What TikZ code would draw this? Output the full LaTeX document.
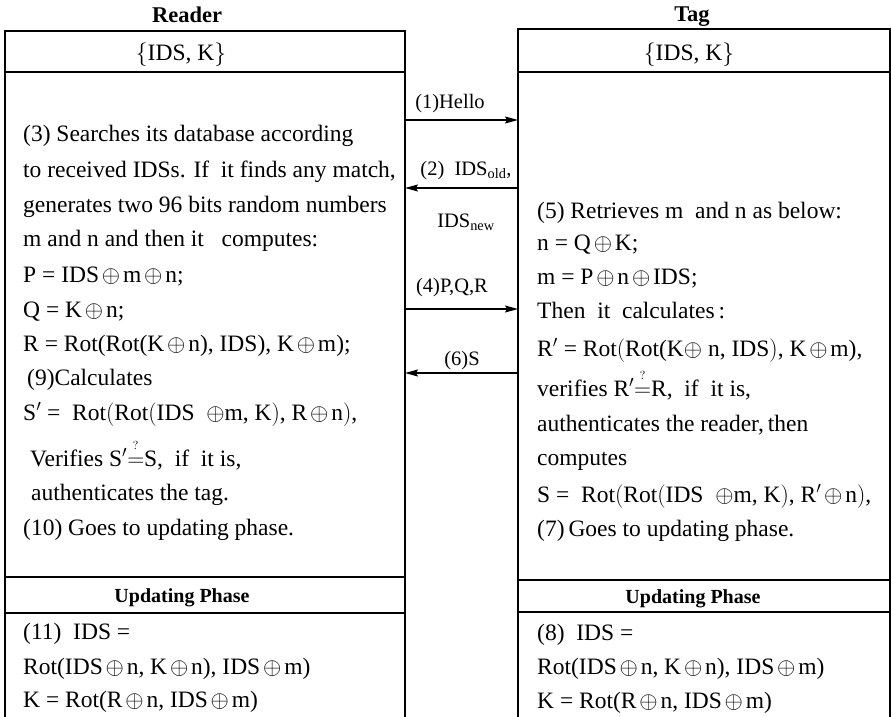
\RequirePackage{fix-cm}
\documentclass[tikz,border=0pt]{standalone}
\usepackage{fontspec}
\setmainfont{Liberation Serif}
\usetikzlibrary{arrows.meta}

\newcommand{\bodyfont}{\fontsize{23.5}{28}\selectfont}
\newcommand{\msgfont}{\fontsize{20.5}{24}\selectfont}
\newcommand{\xo}{\hspace{0.12em}$\oplus$\hspace{0.12em}}
\newcommand{\qeq}{$\mathrel{\mathop{=}\limits^{\raisebox{6pt}{$\scriptscriptstyle ?$}}}$}

\begin{document}
\begin{tikzpicture}[
  x=1pt, y=-1pt,
  box/.style={line width=1.2pt},
  txt/.style={anchor=base west, inner sep=0pt, font=\bodyfont},
  head/.style={anchor=base, inner sep=0pt, font=\fontsize{22.5}{26}\selectfont\bfseries},
  phase/.style={anchor=base, inner sep=0pt, font=\fontsize{20}{24}\selectfont\bfseries},
  msg/.style={anchor=base, inner sep=0pt, font=\msgfont},
  arr/.style={line width=1.1pt, -{Stealth[length=13pt, width=7pt, inset=2pt]}}
]
\useasboundingbox (0,0) rectangle (891,717);

% Reader and tag boxes
\draw[box] (5,717) -- (5,31) -- (405,31) -- (405,717);
\draw[box] (5,72) -- (405,72);
\draw[box] (5,577) -- (405,577);
\draw[box] (5,613) -- (405,613);
\draw[box] (518,717) -- (518,29) -- (890,29) -- (890,717);
\draw[box] (518,72) -- (890,72);
\draw[box] (518,580) -- (890,580);
\draw[box] (518,612) -- (890,612);

% Headings
\node[head] (reader) at (187,23) {Reader};
\node[head] (tag) at (692,22) {Tag};
\node[msg, font=\bodyfont] (rkeys) at (181,61) {$\bigl\{$IDS, K$\bigr\}$};
\node[msg, font=\bodyfont] (tkeys) at (689,61) {$\bigl\{$IDS, K$\bigr\}$};

% Reader side
\node[txt] (r1) at (23,141) {(3) Searches its database according};
\node[txt] (r2) at (23,177) {to received IDSs. If\ \ it finds any match,};
\node[txt] (r3) at (23,212) {generates two 96 bits random numbers};
\node[txt] (r4) at (23,246) {m and n and then it\ \ \ computes:};
\node[txt] (r5) at (23,282) {P = IDS\xo m\xo n;};
\node[txt] (r6) at (23,317) {Q = K\xo n;};
\node[txt] (r7) at (23,351) {R = Rot(Rot(K\xo n), IDS), K\xo m);};
\node[txt] (r8) at (27,385) {(9)Calculates};
\node[txt] (r9) at (23,420) {S$'$ =\ \ Rot$\bigl($Rot$\bigl($IDS\ \ $\oplus$m, K$\bigr)$, R\xo n$\bigr)$,};
\node[txt] (r10) at (30,466) {Verifies S$'$\qeq S,\ \ if\ \ it is,};
\node[txt] (r11) at (31,500) {authenticates the tag.};
\node[txt] (r12) at (23,535) {(10) Goes to updating phase.};
\node[phase] (rup) at (182,602) {Updating Phase};
\node[txt] (r13) at (23,639) {(11)\ \ IDS =};
\node[txt] (r14) at (23,674) {Rot(IDS\xo n, K\xo n), IDS\xo m)};
\node[txt] (r15) at (23,707) {K = Rot(R\xo n, IDS\xo m)};

% Tag side
\node[txt] (t1) at (537,218) {(5) Retrieves m\ \ and n as below:};
\node[txt] (t2) at (537,250) {n = Q\xo K;};
\node[txt] (t3) at (537,284) {m = P\xo n\xo IDS;};
\node[txt] (t4) at (537,318) {Then\ \ it\ \ calculates\,:};
\node[txt] (t5) at (537,356) {R$'$ = Rot$\bigl($Rot(K$\oplus$ n, IDS$\bigr)$, K\xo m),};
\node[txt] (t6) at (537,396) {verifies R$'$\qeq R,\ \ if\ \ it is,};
\node[txt] (t7) at (537,431) {authenticates the reader,\,then};
\node[txt] (t8) at (537,465) {computes};
\node[txt] (t9) at (537,502) {S =\ \ Rot$\bigl($Rot$\bigl($IDS\ \ $\oplus$m, K$\bigr)$, R$'$\xo n$\bigr)$,};
\node[txt] (t10) at (537,536) {(7)\,Goes to updating phase.};
\node[phase] (tup) at (693,603) {Updating Phase};
\node[txt] (t11) at (537,640) {(8)\ \ IDS =};
\node[txt] (t12) at (537,674) {Rot(IDS\xo n, K\xo n), IDS\xo m)};
\node[txt] (t13) at (537,708) {K = Rot(R\xo n, IDS\xo m)};

% Message end points on the box edges
\coordinate (rh) at (405,120);
\coordinate (th) at (518,120);
\coordinate (rid) at (405,188);
\coordinate (tid) at (518,188);
\coordinate (rpqr) at (405,309);
\coordinate (tpqr) at (518,309);
\coordinate (rs) at (405,373);
\coordinate (ts) at (518,373);

% Messages
\draw[arr] (rh) -- (th);
\node[msg] (hello) at (450,108) {(1)Hello};
\draw[arr] (tid) -- (rid);
\node[msg] (idsold) at (466,175) {(2)\ \ IDS\textsubscript{old},};
\node[msg] (idsnew) at (466,227) {IDS\textsubscript{new}};
\draw[arr] (rpqr) -- (tpqr);
\node[msg] (pqr) at (452,292) {(4)P,Q,R};
\draw[arr] (ts) -- (rs);
\node[msg] (s) at (462,365) {(6)S};

\end{tikzpicture}
\end{document}
